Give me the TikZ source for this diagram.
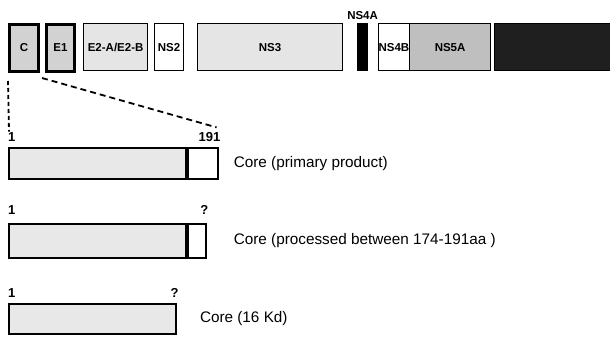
\documentclass[tikz,border=0pt]{standalone}
\usepackage{fontspec}
\setmainfont{Liberation Sans}
\usetikzlibrary{positioning}
\usetikzlibrary{calc}

\begin{document}
\begin{tikzpicture}[x=1pt, y=-1pt, node distance=2pt,
    gene/.style={draw, line width=1.2pt, anchor=north west, minimum height=47pt, inner sep=0pt, font=\bfseries\fontsize{11.5}{11.5}\selectfont},
    corebar/.style={draw, line width=1.8pt, anchor=north west, inner sep=0pt, fill=gray!18},
    coretail/.style={draw, line width=1.8pt, inner sep=0pt, fill=white},
    tick/.style={inner sep=0pt, font=\bfseries\fontsize{13}{13}\selectfont},
    coretext/.style={inner sep=0pt, anchor=west, font=\fontsize{15.3}{15.3}\selectfont},
    zoomline/.style={line width=1.8pt, dash pattern=on 6pt off 4pt}]
    \useasboundingbox (0,0) rectangle (610,337);

    % polyprotein
    \node (c) [gene, minimum width=29pt, line width=3pt, fill=gray!35] at (8,23) {C};
    \node (e1) [gene, minimum width=28pt, line width=3pt, fill=gray!35] at (45,23) {E1};
    \node (e2) [gene, minimum width=64pt, fill=gray!20, path picture={\fill ([xshift=-6pt]path picture bounding box.south east) rectangle (path picture bounding box.north east);}] at (83,23) {E2-A/E2-B};
    \node (ns2) [gene, minimum width=29pt, fill=white] at (154,23) {NS2};
    \node (ns3) [gene, minimum width=145pt, fill=gray!20] at (197,23) {NS3};
    \node (ns4a) [gene, minimum width=10pt, fill=black] at (357,23) {};
    \node (ns4alab) [tick, font=\bfseries\fontsize{11.5}{11.5}\selectfont, above=3pt of ns4a] {NS4A};
    \node (ns4b) [gene, minimum width=24pt, fill=white] at (378,23) {NS4B};
    \node (ns5a) [gene, minimum width=81pt, fill=gray!50] at (409,23) {NS5A};
    \node (ns5b) [gene, minimum width=118pt, fill=black!88] at (494,23) {};

    % core products
    \node (core1) [corebar, minimum width=177pt, minimum height=31pt] at (8,147) {};
    \node (core1tail) [coretail, minimum width=30pt, minimum height=31pt, right=0pt of core1] {};
    \node (core2) [corebar, minimum width=177pt, minimum height=34pt] at (8,223) {};
    \node (core2tail) [coretail, minimum width=18pt, minimum height=34pt, right=0pt of core2] {};
    \node (core3) [corebar, minimum width=167pt, minimum height=30pt] at (8,303) {};

    \node (start1) [tick, anchor=south west] at ($(core1.north west)+(0,-5)$) {1};
    \node (end1) [tick, anchor=south east] at ($(core1tail.north east)+(2,-5)$) {191};
    \node (start2) [tick, anchor=south west] at ($(core2.north west)+(0,-8)$) {1};
    \node (end2) [tick, anchor=south east] at ($(core2tail.north east)+(2,-8)$) {?};
    \node (start3) [tick, anchor=south west] at ($(core3.north west)+(0,-5)$) {1};
    \node (end3) [tick, anchor=south east] at ($(core3.north east)+(2,-5)$) {?};

    \node (text1) [coretext, right=15pt of core1tail] {Core (primary product)};
    \node (text2) [coretext, right=27pt of core2tail] {Core (processed between 174-191aa )};
    \node (text3) [coretext, right=23pt of core3] {Core (16 Kd)};

    % zoom into C
    \coordinate (zoomleft) at ($(c.south west)+(0,8)$);
    \coordinate (zoomright) at ($(e1.south west)+(-3,5)$);
    \draw[zoomline, dash pattern=on 4pt off 3pt] (zoomleft) -- ($(start1.north west)+(1,-1)$);
    \draw[zoomline] (zoomright) -- ($(end1.north east)+(-4,-5)$);
\end{tikzpicture}
\end{document}
